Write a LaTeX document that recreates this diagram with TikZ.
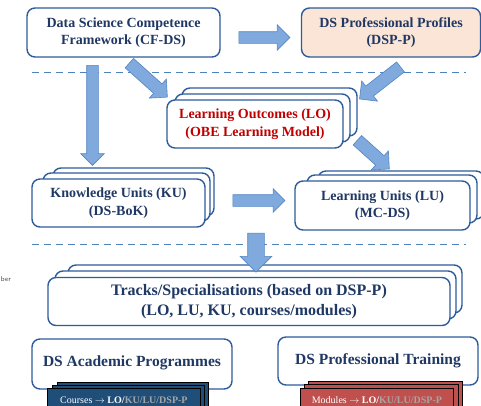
\documentclass[tikz,border=0pt]{standalone}
\usepackage{fontspec}
\setmainfont{Liberation Serif}
\usetikzlibrary{shapes.arrows}
\definecolor{navy}{HTML}{1F3864}
\definecolor{boxblue}{HTML}{2E5C9A}
\definecolor{arrfill}{HTML}{80AADD}
\definecolor{arrdraw}{HTML}{5585C4}
\definecolor{peach}{HTML}{FBE5D6}
\definecolor{lored}{HTML}{C00000}
\definecolor{dkblue}{HTML}{1F4E79}
\definecolor{brick}{HTML}{C0504D}
\definecolor{dashblue}{HTML}{4F81BD}
\definecolor{lgray}{HTML}{A6A6A6}
\tikzset{
  box/.style={draw=boxblue, line width=1.4pt, rounded corners=8pt, fill=white,
    align=center, text=navy, inner sep=0pt,
    font=\bfseries\fontsize{14}{17.5}\selectfont},
  backbox/.style={draw=boxblue, line width=1.4pt, rounded corners=8pt, fill=white},
  tab/.style={draw=black, line width=0.8pt, inner sep=0pt},
  barrow/.style={single arrow, draw=arrdraw, fill=arrfill, line width=0.6pt,
    inner xsep=0pt, single arrow head indent=0pt, minimum width=0pt},
  sep/.style={draw=dashblue, line width=1.8pt, dash pattern=on 7pt off 5pt},
}
\begin{document}
\begin{tikzpicture}[x=1pt,y=-1pt]
\clip (0,0) rectangle (481,405);
\fill[white] (0,0) rectangle (481,405);

% dashed separators
\coordinate (d1a) at (32,72.5); \coordinate (d1b) at (466,72.5);
\coordinate (d2a) at (32,244.5); \coordinate (d2b) at (466,244.5);
\draw[sep] (d1a) -- (d1b);
\draw[sep] (d2a) -- (d2b);

% top row
\node[box, minimum width=193pt, minimum height=49pt] (cf) at (123.5,32.5)
  {Data Science Competence\\Framework (CF-DS)};
\node[box, fill=peach, minimum width=179pt, minimum height=49pt] (dsp) at (391,32.5)
  {DS Professional Profiles\\(DSP-P)};

% LO stack
\draw[backbox] (182,88) rectangle (357,136);
\draw[backbox] (175,94) rectangle (350,142);
\node[box, text=lored, minimum width=176pt, minimum height=48pt] (lo) at (255,124)
  {Learning Outcomes (LO)\\(OBE Learning Model)};

% KU stack
\draw[backbox] (53,168) rectangle (214,216);
\draw[backbox] (43,173) rectangle (210,221);
\node[box, minimum width=173pt, minimum height=48pt] (ku) at (118.5,203)
  {Knowledge Units (KU)\\(DS-BoK)};

% LU stack
\draw[backbox] (318,171) rectangle (484,219);
\draw[backbox] (307,175) rectangle (477,223);
\node[box, minimum width=175pt, minimum height=49pt] (lu) at (382.5,205.5)
  {Learning Units (LU)\\(MC-DS)};

% Tracks stack
\draw[backbox] (68,265) rectangle (462,313);
\draw[backbox] (55,271) rectangle (456,319);
\node[box, minimum width=402pt, minimum height=48pt,
  font=\bfseries\fontsize{16}{20}\selectfont] (tr) at (249,301.5)
  {Tracks/Specialisations (based on DSP-P)\\(LO, LU, KU, courses/modules)};

% bottom boxes
\node[box, minimum width=200pt, minimum height=50pt,
  font=\bfseries\fontsize{15.5}{18}\selectfont] (ap) at (132,364)
  {\raisebox{6pt}{DS Academic Programmes}};
\node[box, minimum width=200pt, minimum height=48pt,
  font=\bfseries\fontsize{15.5}{18}\selectfont] (pt) at (378,361)
  {\raisebox{2pt}{DS Professional Training}};

% course / module tabs
\draw[tab, fill=dkblue] (57,382) rectangle (208,412);
\draw[tab, fill=dkblue] (52,385) rectangle (204,412);
\node[tab, fill=dkblue, minimum width=153pt, minimum height=24pt, anchor=north west,
  font=\fontsize{10}{12}\selectfont, text=white] (crs) at (47,388)
  {\raisebox{-4pt}{Courses $\rightarrow$ \textbf{LO/}\textbf{\color{lgray}KU/LU/DSP-P}}};
\draw[tab, fill=brick] (308,381) rectangle (462,412);
\draw[tab, fill=brick] (304,384) rectangle (458,412);
\node[tab, fill=brick, minimum width=153pt, minimum height=24pt, anchor=north west,
  font=\fontsize{10}{12}\selectfont, text=white] (mod) at (300,388)
  {\raisebox{-4pt}{Modules $\rightarrow$ \textbf{LO/}\textbf{\color{lgray}KU/LU/DSP-P}}};

% stray fragment at left edge
\node[anchor=east, font=\sffamily\fontsize{7}{8}\selectfont, text=black!70, inner sep=0pt]
  (frag) at (11,279) {ber};

% block arrows (inner ysep = half shaft width)
\node[barrow, minimum height=51pt, inner ysep=5.5pt, single arrow head extend=7pt]
  (a1) at (261.5,37.5) {};
\node[barrow, minimum height=51pt, inner ysep=6pt, single arrow head extend=6.5pt,
  rotate=-41.8] (a2) at (146,78) {};
\node[barrow, minimum height=52pt, inner ysep=6pt, single arrow head extend=6.5pt,
  rotate=-142] (a3) at (382.5,81) {};
\node[barrow, minimum height=100pt, inner ysep=5.5pt, single arrow head extend=6pt,
  rotate=-90] (a4) at (92.5,112.5) {};
\node[barrow, minimum height=43pt, inner ysep=6pt, single arrow head extend=6.5pt,
  rotate=-42] (a5) at (371,152.5) {};
\node[barrow, minimum height=52pt, inner ysep=5.5pt, single arrow head extend=6pt]
  (a6) at (256,200.5) {};
\node[barrow, minimum height=39pt, inner ysep=8pt, single arrow head extend=7.5pt,
  rotate=-90] (a7) at (256,248.5) {};
\end{tikzpicture}
\end{document}
